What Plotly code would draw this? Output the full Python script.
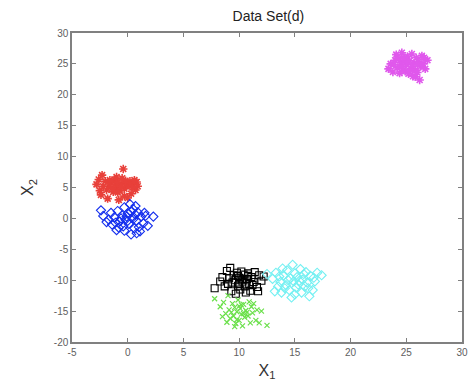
import plotly.graph_objects as go

# Cluster A (red asterisks)
a_x = [-2.6, -2.3, -2.8, -2.5, -2.4, -1.8, -1.5, -1.2, -1.0, -0.9, -0.6, -0.4, -0.3, -0.1, 0.2, 0.5, 0.8, 0.7, 0.3, 0.0,
       -0.8, -1.3, -1.7, -2.0, -1.1, -0.5, 0.1, -0.2, -1.4, -0.7, 0.4, -0.9, -1.6, -0.3, 0.6, -1.9, -0.6, -1.0, 0.9, -2.2]
a_y = [6.3, 7.0, 5.5, 4.5, 3.8, 3.2, 5.8, 6.3, 5.0, 4.2, 5.6, 8.0, 4.8, 5.2, 6.0, 5.5, 5.9, 4.6, 4.0, 3.3,
       3.0, 4.3, 5.2, 6.0, 5.5, 6.5, 5.4, 6.1, 4.9, 4.5, 5.0, 5.9, 6.2, 3.6, 6.2, 4.6, 5.1, 6.7, 5.2, 5.2]

# Cluster B (blue diamonds)
b_x = [-2.4, -2.2, -1.9, -1.5, -1.4, -1.2, -1.0, -0.9, -0.7, -0.5, -0.4, -0.3, -0.2, 0.0, 0.1, 0.2, 0.3, 0.4, 0.5, 0.6, 0.7,
       0.8, 0.9, 1.1, 1.2, 1.4, 1.6, 1.8, 2.3, -1.7, -0.8, 0.0, -0.1, 0.5, 1.0, -0.6, 0.3, -1.1, 0.7, 1.5, -0.3, 0.8]
b_y = [1.3, 0.4, -0.6, 0.9, -1.0, 0.2, -1.9, 1.2, -0.5, 0.5, -1.3, 1.8, -0.2, 0.8, -0.9, 2.3, -2.6, 0.1, 1.5, -1.6, 0.6,
       -0.4, 1.0, -2.1, 0.3, -0.8, 0.4, -1.2, 0.3, -0.2, -1.5, -0.4, 0.3, -0.1, -1.4, 0.0, 1.1, -0.7, 2.0, 0.9, -2.0, -2.4]

# Cluster C (black squares)
c_x = [7.8, 8.5, 8.9, 9.0, 9.2, 9.3, 9.5, 9.6, 9.7, 9.8, 9.9, 10.0, 10.1, 10.2, 10.3, 10.4, 10.5, 10.6, 10.7, 10.8,
       10.9, 11.0, 11.1, 11.3, 11.4, 11.6, 11.8, 12.0, 12.2, 11.7, 9.4, 10.0, 10.3, 9.1, 8.7, 9.9, 10.6, 11.2, 8.3, 10.8]
c_y = [-11.3, -9.5, -8.5, -10.6, -8.0, -11.8, -9.2, -10.0, -12.2, -8.8, -10.9, -9.6, -11.5, -8.6, -10.2, -9.1, -11.0, -12.0, -9.8, -8.9,
       -10.6, -11.7, -9.5, -10.3, -8.7, -11.1, -9.2, -10.1, -9.4, -11.8, -10.4, -10.6, -9.9, -9.7, -11.0, -9.3, -10.7, -10.8, -10.2, -9.3]

# Cluster D (cyan diamonds)
d_x = [12.5, 13.0, 13.3, 13.5, 13.7, 13.8, 14.0, 14.2, 14.3, 14.5, 14.6, 14.7, 14.8, 14.9, 15.0, 15.1, 15.2, 15.3, 15.5, 15.6,
       15.7, 15.9, 16.0, 16.1, 16.3, 16.4, 16.6, 16.8, 17.0, 17.4, 13.2, 14.4, 15.4, 14.1, 15.8, 16.2, 13.9, 15.0, 16.7, 13.6]
d_y = [-9.0, -9.8, -8.8, -11.0, -10.3, -12.0, -9.2, -10.8, -8.4, -11.6, -9.7, -12.8, -7.5, -10.2, -8.9, -11.2, -9.5, -10.7, -8.2, -12.0,
       -9.9, -11.0, -8.7, -10.4, -12.6, -9.3, -11.6, -10.2, -8.8, -9.2, -11.8, -10.0, -10.1, -11.3, -9.0, -11.3, -8.1, -12.3, -9.6, -9.4]

# Cluster E (green crosses)
e_x = [7.8, 8.3, 8.6, 8.8, 9.0, 9.1, 9.2, 9.4, 9.5, 9.6, 9.7, 9.8, 9.9, 10.0, 10.1, 10.2, 10.3, 10.4, 10.5, 10.6,
       10.8, 10.9, 11.0, 11.1, 11.2, 11.5, 11.6, 11.8, 12.0, 12.5, 8.5, 9.3, 10.0, 10.7, 9.8, 11.3, 10.4, 9.6, 8.9, 10.2]
e_y = [-13.0, -14.3, -13.6, -15.4, -12.5, -14.8, -16.2, -13.8, -15.8, -14.4, -17.0, -15.1, -13.2, -16.5, -14.6, -15.5, -17.4, -13.9, -16.0, -14.9,
       -15.8, -13.5, -16.9, -14.3, -15.3, -16.5, -14.8, -16.9, -15.0, -17.3, -15.9, -15.2, -14.2, -15.2, -16.4, -13.8, -15.4, -17.5, -16.8, -14.0]

# Cluster F (magenta asterisks)
f_x = [23.4, 23.6, 23.8, 24.0, 24.1, 24.2, 24.4, 24.5, 24.6, 24.7, 24.8, 24.9, 25.0, 25.1, 25.2, 25.3, 25.4, 25.5, 25.6, 25.7,
       25.8, 25.9, 26.0, 26.1, 26.2, 26.3, 26.4, 26.5, 26.7, 26.9, 24.3, 25.0, 24.6, 25.5, 26.6, 23.9, 25.3, 24.8, 26.0, 25.8]
f_y = [24.2, 25.0, 23.7, 25.6, 26.5, 24.4, 23.5, 25.2, 26.8, 24.0, 25.8, 23.8, 24.9, 26.2, 23.4, 25.5, 24.3, 26.6, 23.0, 25.1,
       24.0, 26.0, 23.6, 25.4, 22.4, 24.6, 26.3, 25.0, 24.2, 25.6, 25.9, 25.4, 24.6, 24.6, 26.0, 24.9, 23.8, 26.0, 24.9, 22.9]

x_ticks = [-5, 0, 5, 10, 15, 20, 25, 30]
y_ticks = [-20, -15, -10, -5, 0, 5, 10, 15, 20, 25, 30]

series = [
    (a_x, a_y, "asterisk-open", "#e8403a", 7, 1.6),
    (b_x, b_y, "diamond-open", "#1530ee", 7, 1.1),
    (c_x, c_y, "square-open", "#000000", 7, 1.1),
    (d_x, d_y, "diamond-open", "#74f0f2", 7, 1.1),
    (e_x, e_y, "x-thin-open", "#6ae04a", 5, 1.2),
    (f_x, f_y, "asterisk-open", "#e058ec", 7, 1.6),
]

fig = go.Figure()
for xs, ys, sym, col, sz, lw in series:
    fig.add_trace(go.Scatter(
        x=xs, y=ys, mode="markers",
        marker=dict(symbol=sym, size=sz, color=col, line=dict(color=col, width=lw)),
        showlegend=False,
    ))

axis_common = dict(
    showgrid=False, zeroline=False, showline=True, linecolor="#808080", linewidth=1.5,
    mirror="ticks", ticks="inside", ticklen=4, tickcolor="#808080",
    tickfont=dict(family="Liberation Sans, Arial, sans-serif", size=10, color="#606060"),
)

fig.update_xaxes(range=[-5, 30], tickvals=x_ticks, ticktext=[str(v) for v in x_ticks],
                 title=dict(text="X<sub>1</sub>", font=dict(family="Liberation Sans, Arial", size=16, color="#333"),
                            standoff=8),
                 **axis_common)
fig.update_yaxes(range=[-20, 30], tickvals=y_ticks, ticktext=[str(v) for v in y_ticks],
                 title=dict(text="X<sub>2</sub>", font=dict(family="Liberation Sans, Arial", size=16, color="#333"),
                            standoff=16),
                 **axis_common)

fig.update_layout(
    width=475, height=384,
    margin=dict(l=72, r=7, t=33, b=40),
    paper_bgcolor="white", plot_bgcolor="white",
    title=dict(text="Data Set(d)", x=0.565, xanchor="center", y=0.958, yanchor="middle",
               font=dict(family="Liberation Sans, Arial, sans-serif", size=14, color="#222")),
)

fig.write_html("out.html")
